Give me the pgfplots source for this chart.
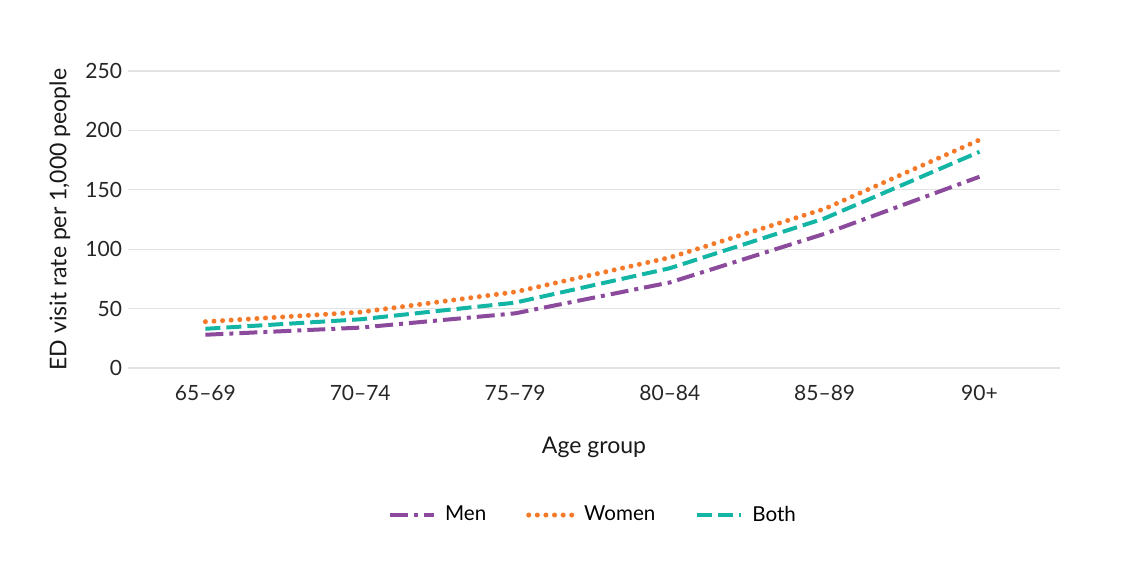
\documentclass[border=0pt]{standalone}
\usepackage{fontspec}
\setmainfont{Lato}
\usepackage{pgfplots}
\pgfplotsset{compat=1.18}
\definecolor{menc}{HTML}{8B4A9C}
\definecolor{womenc}{HTML}{F47A2A}
\definecolor{bothc}{HTML}{13B5A5}
\definecolor{gridc}{HTML}{E2E2E2}
\begin{document}
\begin{tikzpicture}
\useasboundingbox (-64pt,-98pt) rectangle (498.5pt,184pt);
\begin{axis}[
    at={(0,0)}, anchor=south west,
    scale only axis,
    width=466pt, height=148.5pt,
    xmin=-0.5, xmax=5.52,
    ymin=0, ymax=250,
    ytick={0,50,...,250},
    xtick={0,...,5},
    xticklabels={65--69,70--74,75--79,80--84,85--89,90+},
    axis line style={draw=none},
    major tick length=0pt,
    ymajorgrids,
    grid style={gridc, line width=0.6pt},
    tick label style={font=\fontsize{10.5}{12}\selectfont, text=black!85},
    /pgf/number format/assume math mode=true,
    xticklabel style={yshift=-5pt},
    yticklabel style={xshift=0.5pt},
    xlabel={Age group},
    ylabel={ED visit rate per 1,000 people},
    label style={font=\fontsize{11.5}{13}\selectfont, text=black!90},
    xlabel style={at={(axis description cs:0.5,0)}, anchor=center, yshift=-39.5pt},
    ylabel style={at={(axis description cs:0,0.5)}, anchor=center, yshift=34pt},
    legend style={at={(axis description cs:0.5,0)}, anchor=center, yshift=-73.5pt,
        draw=none, legend columns=3, font=\fontsize{10.3}{12}\selectfont,
        /tikz/every odd column/.append style={column sep=2.5pt},
        /tikz/every even column/.append style={column sep=18pt}},
    legend image code/.code={\draw[#1] (0pt,0pt) -- (22pt,0pt);},
]
\addplot[menc, line width=2pt, line cap=butt, dash pattern=on 9pt off 3pt on 2pt off 3pt] coordinates {
    (0,28) (1,34) (2,46) (3,72) (4,113) (5,161)
};
\addlegendentry{Men}
\addplot[womenc, line width=2.5pt, line cap=round, dash pattern=on 0pt off 4.3pt] coordinates {
    (0,39) (1,47) (2,64) (3,93) (4,134) (5,192)
};
\addlegendentry{Women}
\addplot[bothc, line width=2pt, line cap=butt, dash pattern=on 7.5pt off 3pt] coordinates {
    (0,33) (1,41) (2,55) (3,84) (4,126) (5,182)
};
\addlegendentry{Both}
\end{axis}
\end{tikzpicture}
\end{document}
